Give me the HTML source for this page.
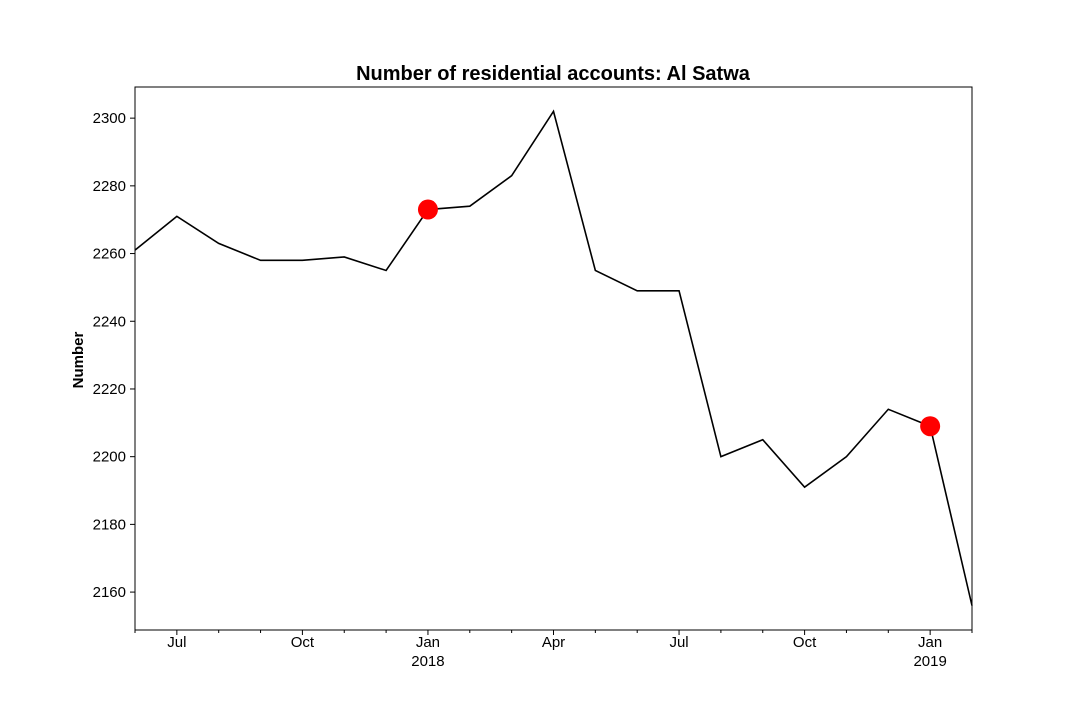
<!DOCTYPE html>
<html><head><meta charset="utf-8"><style>
body{margin:0;background:#fff;}
svg text{font-family:"Liberation Sans","DejaVu Sans",sans-serif;}
</style></head><body>
<svg id="chart" width="1080" height="720" xmlns="http://www.w3.org/2000/svg">
<text x="553" y="80" text-anchor="middle" font-size="20" font-weight="bold">Number of residential accounts: Al Satwa</text>
<text transform="translate(83,360) rotate(-90)" text-anchor="middle" font-size="15" font-weight="bold">Number</text>
<g id="plot"></g>
<rect x="135" y="87" width="837" height="543" fill="none" stroke="#000" stroke-width="1"/>
</svg>
<script>
const months = ["2017-06","2017-07","2017-08","2017-09","2017-10","2017-11","2017-12","2018-01","2018-02","2018-03","2018-04","2018-05","2018-06","2018-07","2018-08","2018-09","2018-10","2018-11","2018-12","2019-01","2019-02"];
const values = [2261,2271,2263,2258,2258,2259,2255,2273,2274,2283,2302,2255,2249,2249,2200,2205,2191,2200,2214,2209,2156];
const highlightMonths = ["2018-01","2019-01"];
const yTicks = [2160,2180,2200,2220,2240,2260,2280,2300];
const xTickMonths = ["2017-07","2017-10","2018-01","2018-04","2018-07","2018-10","2019-01"];
const xTickLabels = ["Jul","Oct","Jan","Apr","Jul","Oct","Jan"];
const xTickYears = ["","","2018","","","","2019"];

const NS="http://www.w3.org/2000/svg";
const g=document.getElementById('plot');
const x0=135,x1=972,yTop=87,yBot=630,vMin=2148.8,vMax=2309.2;
const xs=i=>x0+i*(x1-x0)/(months.length-1);
const ys=v=>yBot-(v-vMin)/(vMax-vMin)*(yBot-yTop);
function mk(t,a){const e=document.createElementNS(NS,t);for(const k in a)e.setAttribute(k,a[k]);g.appendChild(e);return e;}

yTicks.forEach(v=>{
  const l=mk('line',{x1:130,x2:135,y1:ys(v),y2:ys(v),stroke:'#000'});
  
  
  const t=mk('text',{x:126,y:ys(v)+5,'text-anchor':'end','font-size':15});
  t.textContent=v;
  
  
});
months.forEach((m,i)=>{
  const major=xTickMonths.indexOf(m);
  const l=mk('line',{x1:xs(i),x2:xs(i),y1:630,y2:major>=0?635:633,stroke:'#000'});
  
  
  if(major>=0){
    const t=mk('text',{x:xs(i),y:647,'text-anchor':'middle','font-size':15});
    t.textContent=xTickLabels[major];
    
    
    if(xTickYears[major]){
      const t2=mk('text',{x:xs(i),y:666,'text-anchor':'middle','font-size':15});
      t2.textContent=xTickYears[major];
      
      
    }
  }
});
const p=mk('polyline',{points:values.map((v,i)=>xs(i)+','+ys(v)).join(' '),fill:'none',stroke:'#000','stroke-width':1.6});


highlightMonths.forEach(m=>{
  const i=months.indexOf(m);
  const c=mk('circle',{cx:xs(i),cy:ys(values[i]),r:10,fill:'#ff0000'});
  
  
});
</script>
</body></html>
